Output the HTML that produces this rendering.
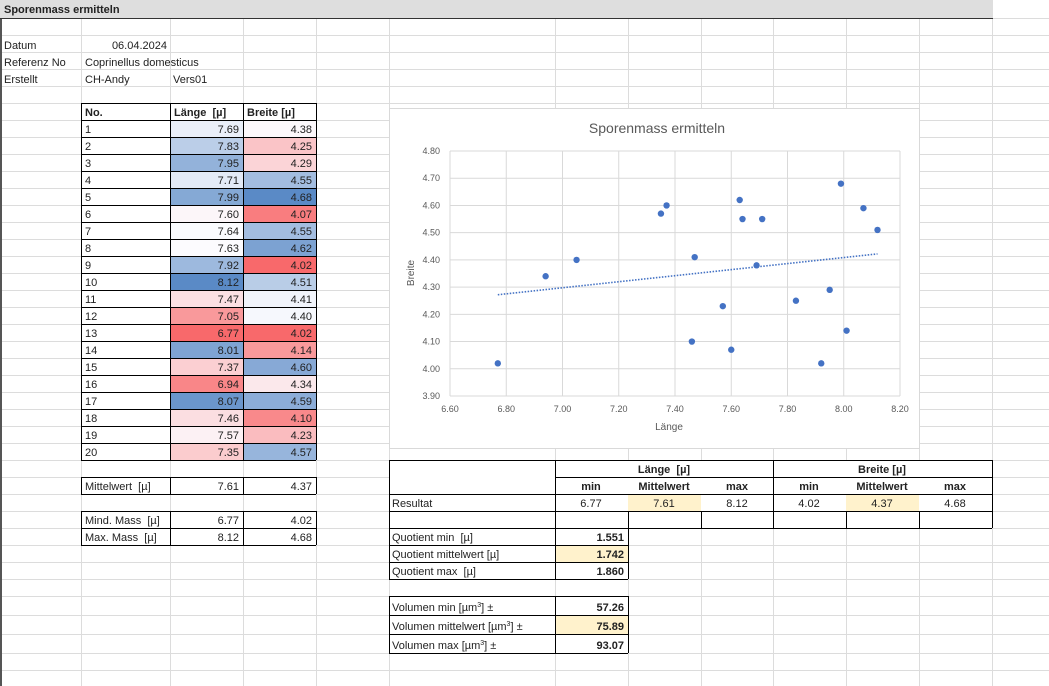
<!DOCTYPE html>
<html><head><meta charset="utf-8"><style>
html,body{margin:0;padding:0;background:#fff;width:1049px;height:686px;overflow:hidden}
svg{display:block}
text{font-family:"Liberation Sans",Arial,sans-serif;font-size:11px;fill:#222}
.b{font-weight:bold}
</style></head><body>
<svg id="s" width="1049" height="686" xmlns="http://www.w3.org/2000/svg"></svg>
<script>
var s=document.getElementById('s'),h='';
function R(x,y,w,hh,f,st){h+='<rect x="'+x+'" y="'+y+'" width="'+w+'" height="'+hh+'" fill="'+(f||'none')+'"'+(st?' stroke="'+st+'" stroke-width="1"':'')+'/>';}
function L(x1,y1,x2,y2,c,w,extra){h+='<line x1="'+x1+'" y1="'+y1+'" x2="'+x2+'" y2="'+y2+'" stroke="'+c+'" stroke-width="'+(w||1)+'" '+(extra||'')+'/>';}
function T(x,y,t,a,cls,extra){h+='<text x="'+x+'" y="'+y+'"'+(a?' text-anchor="'+a+'"':'')+(cls?' class="'+cls+'"':'')+' '+(extra||'')+'>'+t+'</text>';}
var cols=[81,170,243,316,389,555,628,701,773,846,919,992];
var rows=[18];for(var y=35;y<=596;y+=17)rows.push(y);rows.push(615,634,653,670,687);
cols.forEach(function(x){L(x+.5,18,x+.5,686,'#dcdcdc');});
rows.forEach(function(y){L(0,y+.5,1049,y+.5,'#dcdcdc');});
L(1,0,1,686,'#555',2);
R(0,0,993,18,'#dedede');L(0,18.5,993,18.5,'#333');
T(4,13,'Sporenmass ermitteln',null,'b');
T(4,49,'Datum');T(167,49,'06.04.2024','end');
T(4,66,'Referenz No');T(85,66,'Coprinellus domesticus');
T(4,83,'Erstellt');T(85,83,'CH-Andy');T(173,83,'Vers01');
var D=[[7.69,4.38],[7.83,4.25],[7.95,4.29],[7.71,4.55],[7.99,4.68],[7.60,4.07],[7.64,4.55],[7.63,4.62],[7.92,4.02],[8.12,4.51],[7.47,4.41],[7.05,4.40],[6.77,4.02],[8.01,4.14],[7.37,4.60],[6.94,4.34],[8.07,4.59],[7.46,4.10],[7.57,4.23],[7.35,4.57]];
function col(v,mn,md,mx){var lo=[248,105,107],mi=[252,252,255],hi=[90,138,198],a,b,t;
 if(v<=md){t=(v-mn)/(md-mn);a=lo;b=mi;}else{t=(v-md)/(mx-md);a=mi;b=hi;}
 return 'rgb('+[0,1,2].map(function(i){return Math.round(a[i]+(b[i]-a[i])*t)}).join(',')+')';}
var tp=103;
R(81,tp,235,17,'#fff');
T(85,tp+13,'No.',null,'b');T(174,tp+13,'Länge&#160; [µ]',null,'b');T(247,tp+13,'Breite [µ]',null,'b');
D.forEach(function(d,i){var y=tp+17*(i+1);
 R(81,y,89,17,'#fff');R(170,y,73,17,col(d[0],6.77,7.635,8.12));R(243,y,73,17,col(d[1],4.02,4.39,4.68));
 T(85,y+13,i+1);T(239,y+13,d[0].toFixed(2),'end');T(312,y+13,d[1].toFixed(2),'end');});
for(var i=0;i<=21;i++)L(81,tp+17*i+.5,316,tp+17*i+.5,'#000');
[81,170,243,316].forEach(function(x){L(x+.5,tp,x+.5,tp+357,'#000');});
function row3(y,a,b,c){R(81,y,235,17,'#fff');T(85,y+13,a);T(239,y+13,b,'end');T(312,y+13,c,'end');
 L(81,y+.5,316,y+.5,'#000');L(81,y+17.5,316,y+17.5,'#000');[81,170,243,316].forEach(function(x){L(x+.5,y,x+.5,y+17,'#000');});}
row3(477,'Mittelwert&#160; [µ]','7.61','4.37');
row3(511,'Mind. Mass&#160; [µ]','6.77','4.02');row3(528,'Max. Mass&#160; [µ]','8.12','4.68');
R(389,460,603,68,'#fff');
R(628,494,73,17,'#fff2cc');R(846,494,73,17,'#fff2cc');
T(664,473,'Länge&#160; [µ]','middle','b');T(882,473,'Breite [µ]','middle','b');
var cx=[591,664,737,809,882,955],hd=['min','Mittelwert','max','min','Mittelwert','max'],vv=['6.77','7.61','8.12','4.02','4.37','4.68'];
cx.forEach(function(x,i){T(x,490,hd[i],'middle','b');T(x,507,vv[i],'middle');});
T(392,507,'Resultat');
L(389,460.5,992,460.5,'#000');L(555,477.5,992,477.5,'#000');L(389,494.5,992,494.5,'#000');L(389,511.5,992,511.5,'#000');L(389,528.5,992,528.5,'#000');
[389,555,773,992].forEach(function(x){L(x+.5,460,x+.5,528,'#000');});
[628,701,846,919].forEach(function(x){L(x+.5,511,x+.5,528,'#000');});
function row2(y,hh,a,b,hl){R(389,y,239,hh,'#fff');if(hl)R(555,y,73,hh,'#fff2cc');T(392,y+hh-4,a);T(624,y+hh-4,b,'end','b');
 L(389,y+.5,628,y+.5,'#000');L(389,y+hh+.5,628,y+hh+.5,'#000');[389,555,628].forEach(function(x){L(x+.5,y,x+.5,y+hh,'#000');});}
row2(528,17,'Quotient min&#160; [µ]','1.551');row2(545,17,'Quotient mittelwert [µ]','1.742',1);row2(562,17,'Quotient max&#160; [µ]','1.860');
row2(596,19,'Volumen min [µm<tspan dy="-4" font-size="7">3</tspan><tspan dy="4">] ±</tspan>','57.26');
row2(615,19,'Volumen mittelwert [µm<tspan dy="-4" font-size="7">3</tspan><tspan dy="4">] ±</tspan>','75.89',1);
row2(634,19,'Volumen max [µm<tspan dy="-4" font-size="7">3</tspan><tspan dy="4">] ±</tspan>','93.07');
R(389.5,108.5,530,340,'#fff','#d9d9d9');
h+='<text x="657" y="133" text-anchor="middle" style="font-size:14px;fill:#595959">Sporenmass ermitteln</text>';
var X0=450,X1=900,Y0=396,Y1=151;
function px(v){return X0+(v-6.6)/1.6*(X1-X0);}function py(v){return Y0-(v-3.9)/0.9*(Y0-Y1);}
for(var k=0;k<=8;k++){var x=px(6.6+k*0.2);L(x,Y1,x,Y0,'#d9d9d9');h+='<text x="'+x+'" y="412" text-anchor="middle" style="font-size:9px;fill:#595959">'+(6.6+k*0.2).toFixed(2)+'</text>';}
for(var k=0;k<=9;k++){var y=py(3.9+k*0.1);L(X0,y,X1,y,'#d9d9d9');h+='<text x="440" y="'+(y+3)+'" text-anchor="end" style="font-size:9px;fill:#595959">'+(3.9+k*0.1).toFixed(2)+'</text>';}
h+='<text x="669" y="430" text-anchor="middle" style="font-size:10px;fill:#595959">Länge</text>';
h+='<text x="0" y="0" transform="translate(414,273) rotate(-90)" text-anchor="middle" style="font-size:10px;fill:#595959">Breite</text>';
L(px(6.77),py(4.272),px(8.12),py(4.422),'#4472c4',1.6,'stroke-dasharray="1.5 1.5"');
D.forEach(function(d){h+='<circle cx="'+px(d[0])+'" cy="'+py(d[1])+'" r="3.2" fill="#4472c4"/>';});
s.innerHTML=h;
</script>
</body></html>
